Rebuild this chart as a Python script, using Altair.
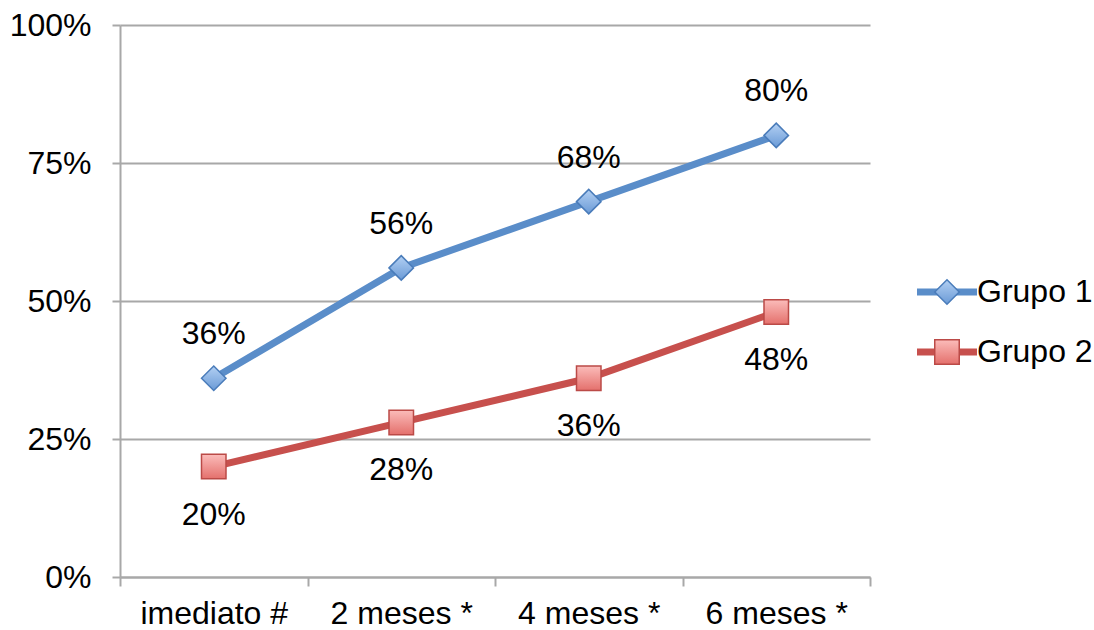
import altair as alt
import pandas as pd

categories = ["imediato #", "2 meses *", "4 meses *", "6 meses *"]
groups = ["Grupo 1", "Grupo 2"]
grupo1 = [0.36, 0.56, 0.68, 0.80]
grupo2 = [0.20, 0.28, 0.36, 0.48]
y_ticks = [0, 0.25, 0.5, 0.75, 1.0]

rows = []
for c, v in zip(categories, grupo1):
    rows.append({"cat": c, "group": "Grupo 1", "value": v})
for c, v in zip(categories, grupo2):
    rows.append({"cat": c, "group": "Grupo 2", "value": v})
df = pd.DataFrame(rows)
leg_df = pd.DataFrame({"group": groups})

FONT = "Liberation Sans"
FS = 32
GRID = "#a8a8a8"
BLUE = "#5a8dc9"
RED = "#c7504d"

color_scale = alt.Scale(domain=groups, range=[BLUE, RED])

blue_fill = alt.Gradient(gradient="linear", x1=0, y1=0, x2=0, y2=1,
                         stops=[alt.GradientStop(color="#b3d0f3", offset=0),
                                alt.GradientStop(color="#6a9ad6", offset=1)])
red_fill = alt.Gradient(gradient="linear", x1=0, y1=0, x2=0, y2=1,
                        stops=[alt.GradientStop(color="#fbbcba", offset=0),
                               alt.GradientStop(color="#e4706c", offset=1)])

x_enc = alt.X("cat:N", sort=categories,
              scale=alt.Scale(type="band", paddingInner=0, paddingOuter=0),
              axis=alt.Axis(title=None, labelAngle=0, tickBand="extent", tickSize=9,
                            tickColor=GRID, tickWidth=2, domainColor=GRID, domainWidth=2,
                            labelFont=FONT, labelFontSize=FS, labelColor="black",
                            labelPadding=12, grid=False))
y_enc = alt.Y("value:Q", scale=alt.Scale(domain=[0, 1]),
              axis=alt.Axis(title=None, values=y_ticks, format=".0%", tickSize=8,
                            tickColor=GRID, tickWidth=2, domainColor=GRID, domainWidth=2,
                            gridColor=GRID, gridWidth=2, labelFont=FONT, labelFontSize=FS,
                            labelColor="black", labelPadding=21))

base = alt.Chart(df).encode(x=x_enc, y=y_enc)

lines = base.mark_line(strokeWidth=7).encode(
    color=alt.Color("group:N", scale=color_scale, legend=None))
pts1 = base.transform_filter(alt.datum.group == "Grupo 1").mark_point(
    shape="diamond", size=600, filled=True, fill=blue_fill, stroke="#4a7cba",
    strokeWidth=1.5, opacity=1)
pts2 = base.transform_filter(alt.datum.group == "Grupo 2").mark_point(
    shape="square", size=600, filled=True, fill=red_fill, stroke="#bb4a47",
    strokeWidth=1.5, opacity=1)
txt1 = base.transform_filter(alt.datum.group == "Grupo 1").mark_text(
    dy=-44, font=FONT, fontSize=FS, color="black", baseline="middle").encode(
    text=alt.Text("value:Q", format=".0%"))
txt2 = base.transform_filter(alt.datum.group == "Grupo 2").mark_text(
    dy=48, font=FONT, fontSize=FS, color="black", baseline="middle").encode(
    text=alt.Text("value:Q", format=".0%"))

main = alt.layer(lines, pts1, pts2, txt1, txt2).properties(width=750, height=552)

leg_y = alt.Y("group:N", scale=alt.Scale(type="point", domain=groups, range=[267, 327], padding=0),
              axis=None)
leg_base = alt.Chart(leg_df).encode(y=leg_y)
leg_line = leg_base.mark_rule(strokeWidth=7).encode(
    x=alt.value(0), x2=alt.value(60),
    color=alt.Color("group:N", scale=color_scale, legend=None))
leg_p1 = leg_base.transform_filter(alt.datum.group == "Grupo 1").mark_point(
    shape="diamond", size=600, filled=True, fill=blue_fill, stroke="#4a7cba",
    strokeWidth=1.5, opacity=1).encode(x=alt.value(30))
leg_p2 = leg_base.transform_filter(alt.datum.group == "Grupo 2").mark_point(
    shape="square", size=600, filled=True, fill=red_fill, stroke="#bb4a47",
    strokeWidth=1.5, opacity=1).encode(x=alt.value(30))
leg_txt = leg_base.mark_text(align="left", baseline="middle", font=FONT, fontSize=FS,
                             color="black").encode(x=alt.value(60), text="group:N")
legend = alt.layer(leg_line, leg_p1, leg_p2, leg_txt).properties(width=170, height=552)

chart = alt.hconcat(main, legend, spacing=42).properties(
    background="white", padding={"left": 9, "top": 9, "right": 0, "bottom": 0}
).configure_view(stroke=None)

chart.save("out.html", embed_options={"renderer": "svg", "actions": False})
